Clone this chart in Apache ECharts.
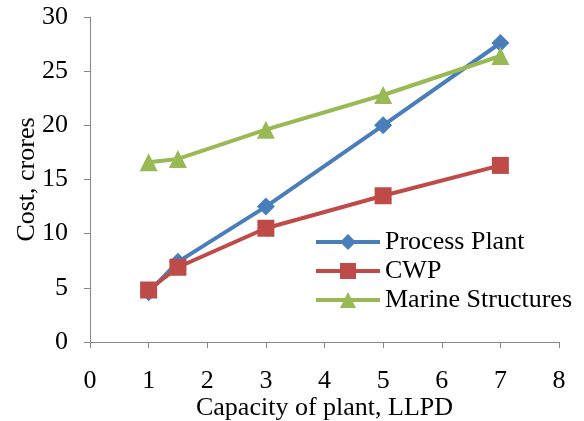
<!DOCTYPE html>
<html>
<head>
<meta charset="utf-8">
<script src="https://cdn.jsdelivr.net/npm/echarts@6/dist/echarts.min.js"></script>
<style>
  html, body { margin: 0; padding: 0; background: #fff; }
  #main { width: 584px; height: 421px; }
</style>
</head>
<body>
<div id="main"></div>
<script>
var capacity = [1, 1.5, 3, 5, 7];
var processPlant = [4.6, 7.4, 12.5, 20.0, 27.6];
var cwp = [4.8, 6.9, 10.5, 13.5, 16.3];
var marine = [16.6, 16.9, 19.6, 22.8, 26.4];
var seriesNames = ['Process Plant', 'CWP', 'Marine Structures'];

function pairs(ys) {
  return capacity.map(function (x, i) { return [x, ys[i]]; });
}

var chart = echarts.init(document.getElementById('main'));
var font = 'Liberation Serif, Times New Roman, serif';
var option = {
  backgroundColor: '#FFFFFF',
  animation: false,
  textStyle: { fontFamily: font },
  grid: { left: 90, right: 25, top: 17, bottom: 79, outerBoundsMode: 'none', containLabel: false },
  legend: {
    orient: 'vertical',
    left: 309,
    top: 224,
    itemWidth: 64,
    itemHeight: 20,
    itemGap: 3,
    data: seriesNames,
    lineStyle: { width: 4 },
    textStyle: { fontFamily: font, fontSize: 26, color: '#000' }
  },
  xAxis: {
    type: 'value',
    min: 0,
    max: 8,
    interval: 1,
    name: 'Capacity of plant, LLPD',
    nameLocation: 'middle',
    nameGap: 53,
    nameMoveOverlap: false,
    nameTextStyle: { fontFamily: font, fontSize: 26, color: '#000' },
    splitLine: { show: false },
    axisLine: { show: true, lineStyle: { color: '#868686', width: 1 } },
    axisTick: { show: true, length: 6, lineStyle: { color: '#868686' } },
    axisLabel: { margin: 26, fontFamily: font, fontSize: 26, color: '#000' }
  },
  yAxis: {
    type: 'value',
    min: 0,
    max: 30,
    interval: 5,
    name: 'Cost, crores',
    nameLocation: 'middle',
    nameGap: 50,
    nameMoveOverlap: false,
    nameTextStyle: { fontFamily: font, fontSize: 26, color: '#000' },
    splitLine: { show: false },
    axisLine: { show: true, lineStyle: { color: '#868686', width: 1 } },
    axisTick: { show: true, length: 6, lineStyle: { color: '#868686' } },
    axisLabel: { margin: 22, fontFamily: font, fontSize: 26, color: '#000' }
  },
  series: [
    {
      name: seriesNames[0],
      type: 'line',
      data: pairs(processPlant),
      symbol: 'diamond',
      symbolSize: 18,
      color: '#4a7ebb',
      lineStyle: { width: 4 }
    },
    {
      name: seriesNames[1],
      type: 'line',
      data: pairs(cwp),
      symbol: 'rect',
      symbolSize: 17,
      color: '#be4b48',
      lineStyle: { width: 4 }
    },
    {
      name: seriesNames[2],
      type: 'line',
      data: pairs(marine),
      symbol: 'triangle',
      symbolSize: 18,
      color: '#98b954',
      lineStyle: { width: 4 }
    }
  ]
};
chart.setOption(option);
</script>
</body>
</html>
